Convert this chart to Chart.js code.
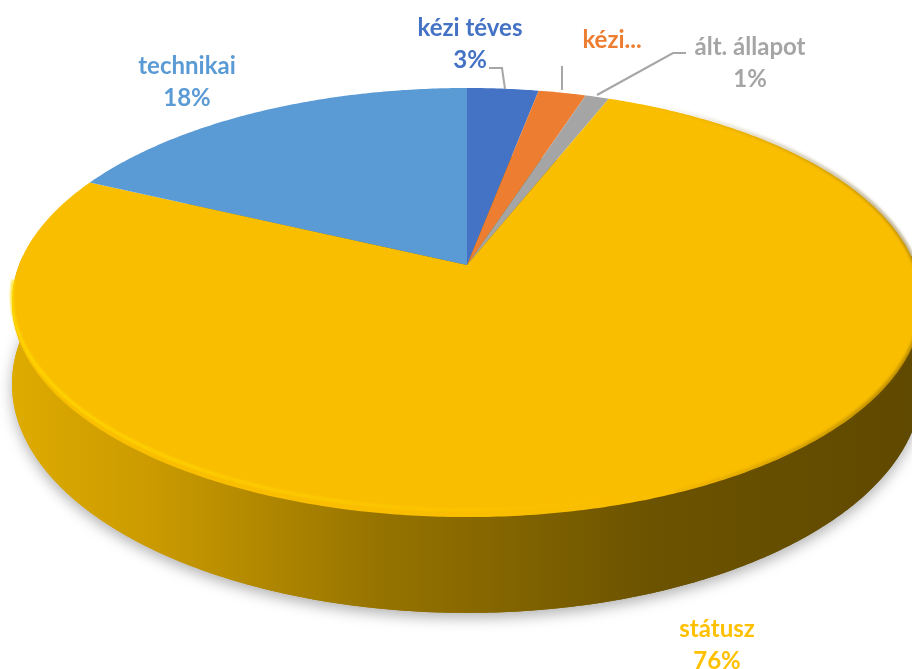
<!DOCTYPE html>
<html>
<head>
<meta charset="utf-8">
<script src="https://cdn.jsdelivr.net/npm/chart.js@4.4.0/dist/chart.umd.min.js"></script>
<style>
  html, body { margin: 0; padding: 0; background: #fff; }
  #wrap { width: 912px; height: 669px; }
</style>
</head>
<body>
<div id="wrap"><canvas id="pieChart" width="912" height="669"></canvas></div>
<script>
// data
const categories = ['kézi téves', 'kézi...', 'ált. állapot', 'státusz', 'technikai'];
const shares = [3, 2, 1, 76, 18];
const showPercent = [true, false, true, true, true];

// styles
const sliceColors = ['#4472C4', '#ED7D31', '#A5A5A5', '#FABE00', '#5B9BD5'];
const labelColors = ['#4472C4', '#ED7D31', '#A5A5A5', '#FFC000', '#5B9BD5'];

// label spots + leader lines (layout only)
const labelSpots = [
  { x: 470, y: 28, line: [[489, 68], [502, 68], [505, 89]] },
  { x: 612, y: 40, line: [[562, 66], [562, 90]] },
  { x: 750, y: 47, line: [[686, 53], [673, 53], [597, 95]] },
  { x: 717, y: 629 },
  { x: 187, y: 66 }
];

// 3d look: simple perspective on a flat disc
const K = 0.175, CX = 467, CY = 265, RX = 448, RY = 208, DEPTH = 79;
function proj(a, h) {
  const u = Math.cos(a), v = Math.sin(a), s = 1 / (1 - K * v);
  return [CX + RX * u * s, CY + (RY * v + h) * s];
}
function rimPath(ctx, a0, a1, h, first) {
  const n = Math.max(2, Math.ceil(Math.abs(a1 - a0) / 0.01));
  for (let i = 0; i <= n; i++) {
    const p = proj(a0 + (a1 - a0) * i / n, h);
    if (i === 0 && first) ctx.moveTo(p[0], p[1]); else ctx.lineTo(p[0], p[1]);
  }
}

const pie3d = {
  id: 'pie3d',
  beforeDatasetsDraw(chart) {
    const ctx = chart.ctx;
    const arcs = chart.getDatasetMeta(0).data;
    ctx.save();

    const wallGrad = ctx.createLinearGradient(12, 0, 922, 0);
    wallGrad.addColorStop(0, '#DEAB00');
    wallGrad.addColorStop(0.15, '#CB9B00');
    wallGrad.addColorStop(0.4, '#977400');
    wallGrad.addColorStop(0.7, '#6C5300');
    wallGrad.addColorStop(1, '#5F4900');

    // bottom disc with soft shadow
    ctx.beginPath();
    rimPath(ctx, 0, Math.PI * 2, DEPTH, true);
    ctx.closePath();
    ctx.shadowColor = 'rgba(0,0,0,0.3)';
    ctx.shadowBlur = 14;
    ctx.shadowOffsetY = 5;
    ctx.fillStyle = wallGrad;
    ctx.fill();
    ctx.shadowColor = 'transparent';

    // side wall
    ctx.beginPath();
    rimPath(ctx, -0.05, Math.PI + 0.05, 0, true);
    rimPath(ctx, Math.PI + 0.05, -0.05, DEPTH, false);
    ctx.closePath();
    ctx.fill();

    // top face, one slice per arc element
    arcs.forEach((arc, i) => {
      ctx.beginPath();
      ctx.moveTo(CX, CY);
      rimPath(ctx, arc.startAngle, arc.endAngle, 0, false);
      ctx.closePath();
      ctx.fillStyle = sliceColors[i];
      ctx.fill();
    });

    // bevel highlight inside the near left rim
    const hi = ctx.createLinearGradient(12, 0, 620, 0);
    hi.addColorStop(0, 'rgba(255,220,0,0.85)');
    hi.addColorStop(0.5, 'rgba(255,214,0,0.55)');
    hi.addColorStop(1, 'rgba(255,214,0,0)');
    ctx.beginPath();
    rimPath(ctx, Math.PI - 0.1, Math.PI / 2 - 0.3, -6, true);
    ctx.strokeStyle = hi;
    ctx.lineWidth = 3;
    ctx.filter = 'blur(1px)';
    ctx.stroke();

    // dark soft edge on the right rim
    const lo = ctx.createLinearGradient(640, 0, 922, 0);
    lo.addColorStop(0, 'rgba(110,80,0,0)');
    lo.addColorStop(1, 'rgba(110,80,0,0.5)');
    ctx.beginPath();
    rimPath(ctx, -1.1, Math.PI / 2 - 0.4, -1, true);
    ctx.strokeStyle = lo;
    ctx.lineWidth = 4;
    ctx.filter = 'blur(1.5px)';
    ctx.stroke();
    ctx.filter = 'none';

    ctx.restore();
    return false;
  },
  afterDraw(chart) {
    const ctx = chart.ctx;
    const total = shares.reduce((a, b) => a + b, 0);
    ctx.save();
    ctx.strokeStyle = '#A6A6A6';
    ctx.lineWidth = 2;
    labelSpots.forEach(spot => {
      if (!spot.line) return;
      ctx.beginPath();
      spot.line.forEach((p, j) => j ? ctx.lineTo(p[0], p[1]) : ctx.moveTo(p[0], p[1]));
      ctx.stroke();
    });
    ctx.font = 'bold 24px Lato';
    ctx.textAlign = 'center';
    ctx.textBaseline = 'middle';
    categories.forEach((name, i) => {
      const spot = labelSpots[i];
      ctx.fillStyle = labelColors[i];
      ctx.fillText(name, spot.x, spot.y);
      if (showPercent[i]) {
        ctx.fillText(Math.round(shares[i] / total * 100) + '%', spot.x, spot.y + 32);
      }
    });
    ctx.restore();
  }
};

new Chart(document.getElementById('pieChart').getContext('2d'), {
  type: 'pie',
  data: {
    labels: categories,
    datasets: [{
      data: shares,
      backgroundColor: sliceColors,
      borderWidth: 0
    }]
  },
  options: {
    responsive: false,
    animation: false,
    events: [],
    plugins: {
      legend: { display: false },
      tooltip: { enabled: false }
    }
  },
  plugins: [pie3d]
});
</script>
</body>
</html>
